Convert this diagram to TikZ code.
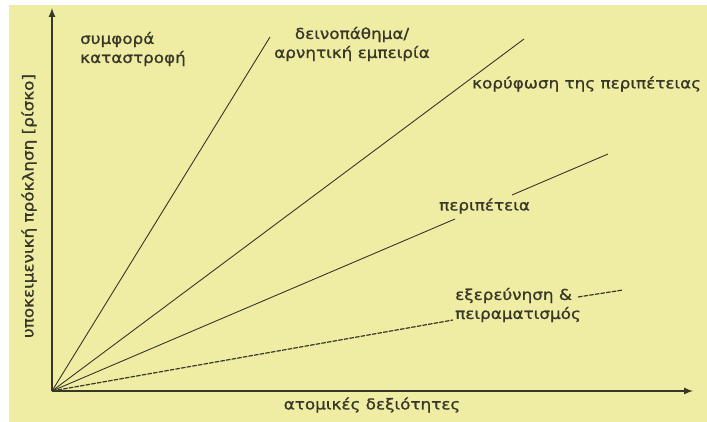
\documentclass[tikz,border=0pt]{standalone}
\usepackage{fontspec}
\setmainfont{DejaVu Sans}[FakeBold=1, FakeStretch=1.12]
\usetikzlibrary{positioning}
\definecolor{paper}{RGB}{239,236,163}
\definecolor{ink}{RGB}{55,55,40}
\tikzset{
  lbl/.style={text=ink, font=\fontsize{15}{19}\selectfont, inner sep=0pt},
  ray/.style={draw=ink, line width=0.9pt},
  axis/.style={draw=ink, line width=2pt, -latex}
}
\begin{document}
\begin{tikzpicture}[x=1pt, y=-1pt]
    \useasboundingbox (0,0) rectangle (707,422);
    \fill[paper] (9,5) rectangle (707,422);
    \coordinate (O) at (52,391);
    \coordinate (ytip) at (52,8);
    \coordinate (xtip) at (693,391);
    \coordinate (c1) at (270,37);
    \coordinate (c2) at (524,39);
    \coordinate (c3a) at (455,219);
    \coordinate (c3b) at (512,195);
    \coordinate (c3) at (608,154);
    \coordinate (c4a) at (453,320);
    \coordinate (c4b) at (578,297);
    \coordinate (c4) at (623,290);
    \draw[axis] (O) -- (ytip);
    \draw[axis] (O) -- (xtip);
    \draw[ray] (O) -- (c1);
    \draw[ray] (O) -- (c2);
    \draw[ray] (O) -- (c3a);
    \draw[ray] (c3b) -- (c3);
    \draw[ray, line width=1.2pt, dash pattern=on 4.5pt off 1.2pt] (O) -- (c4a);
    \draw[ray, line width=1.2pt, dash pattern=on 4.5pt off 1.2pt] (c4b) -- (c4);
    \node[lbl, anchor=west, align=left] (disaster) at (80,49) {συμφορά\\καταστροφή};
    \node[lbl, align=center] (ordeal) at (352,44) {δεινοπάθημα/\\αρνητική εμπειρία};
    \node[lbl, anchor=west] (climax) at (472,84) {κορύφωση της περιπέτειας};
    \node[lbl, anchor=west] (adventure) at (439,206) {περιπέτεια};
    \node[lbl, anchor=west, align=left] (explore) at (455,305) {εξερεύνηση \&\\πειραματισμός};
    \node[lbl] (skills) at (372,405) {ατομικές δεξιότητες};
    \node[lbl, rotate=90] (risk) at (29,206) {υποκειμενική πρόκληση [ρίσκο]};
\end{tikzpicture}
\end{document}
